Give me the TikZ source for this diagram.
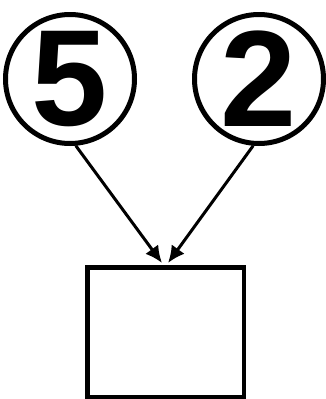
\documentclass[tikz,border=0pt]{standalone}
\usepackage{fontspec}
\setmainfont{Liberation Sans}
\usetikzlibrary{arrows.meta}
\begin{document}
\begin{tikzpicture}[x=1pt,y=-1pt,
  numcircle/.style={circle,draw,line width=5pt,minimum size=129pt,inner sep=0pt,
    font=\bfseries\fontsize{137}{137}\selectfont},
  conn/.style={line width=3pt,-{Latex[length=17pt,width=16pt]}},
  box/.style={draw,line width=4.5pt,minimum width=156.5pt,minimum height=129.5pt,inner sep=0pt}]
\useasboundingbox (0,0) rectangle (326,399);
\node[numcircle] (a) at (70,79) {5};
\node[numcircle] (b) at (259,79) {2};
\node[box] (r) at (165.75,332.25) {};
\coordinate (ta) at (162,263);
\coordinate (tb) at (168,263);
\draw[conn] (a.-85) -- (ta);
\draw[conn] (b.-95) -- (tb);
\end{tikzpicture}
\end{document}
